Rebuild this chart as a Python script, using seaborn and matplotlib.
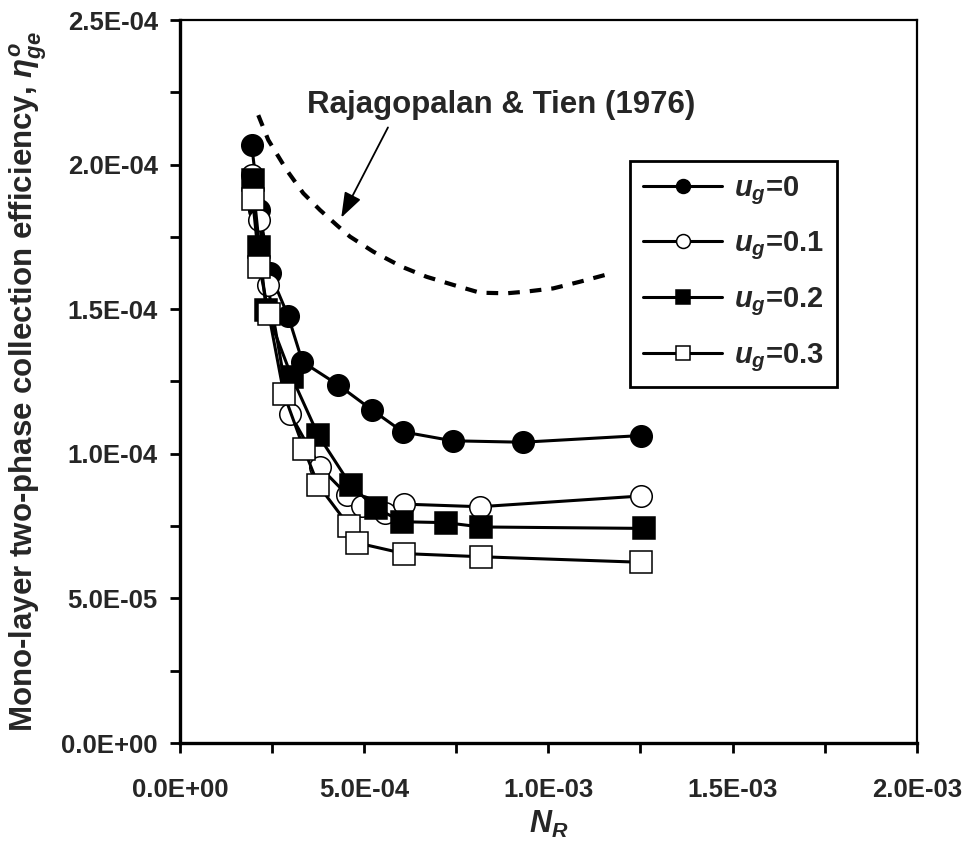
import seaborn as sns
import pandas as pd
import matplotlib.pyplot as plt
from matplotlib.lines import Line2D
from matplotlib.ticker import FuncFormatter, MultipleLocator

sns.set_theme(style="white")
plt.rcParams['font.family'] = ['Liberation Sans', 'DejaVu Sans']
plt.rcParams['font.weight'] = 'bold'
plt.rcParams['axes.labelweight'] = 'bold'
plt.rcParams['mathtext.fontset'] = 'custom'
plt.rcParams['mathtext.it'] = 'Liberation Sans:bold:italic'
plt.rcParams['mathtext.rm'] = 'Liberation Sans:bold'
plt.rcParams['mathtext.bf'] = 'Liberation Sans:bold'

# data (N_R, collection efficiency)
nr_u0 = [1.946e-4, 2.153e-4, 2.443e-4, 2.932e-4, 3.325e-4, 4.297e-4, 5.220e-4, 6.045e-4, 7.402e-4, 9.302e-4, 1.2505e-3]
eta_u0 = [2.068e-4, 1.843e-4, 1.625e-4, 1.478e-4, 1.318e-4, 1.238e-4, 1.151e-4, 1.076e-4, 1.045e-4, 1.040e-4, 1.063e-4]

nr_u01 = [1.95e-4, 2.15e-4, 2.38e-4, 2.986e-4, 3.80e-4, 4.53e-4, 4.93e-4, 5.56e-4, 6.08e-4, 8.14e-4, 1.2505e-3]
eta_u01 = [1.964e-4, 1.808e-4, 1.585e-4, 1.139e-4, 9.54e-5, 8.59e-5, 8.21e-5, 7.97e-5, 8.26e-5, 8.17e-5, 8.54e-5]

nr_u02 = [1.97e-4, 2.155e-4, 2.34e-4, 3.03e-4, 3.75e-4, 4.63e-4, 5.32e-4, 6.04e-4, 7.21e-4, 8.17e-4, 1.26e-3]
eta_u02 = [1.947e-4, 1.716e-4, 1.497e-4, 1.267e-4, 1.065e-4, 8.92e-5, 8.12e-5, 7.65e-5, 7.62e-5, 7.47e-5, 7.42e-5]

nr_u03 = [1.972e-4, 2.158e-4, 2.41e-4, 2.82e-4, 3.37e-4, 3.752e-4, 4.59e-4, 4.81e-4, 6.08e-4, 8.172e-4, 1.2505e-3]
eta_u03 = [1.880e-4, 1.647e-4, 1.483e-4, 1.207e-4, 1.015e-4, 8.92e-5, 7.50e-5, 6.92e-5, 6.55e-5, 6.44e-5, 6.25e-5]

# Rajagopalan & Tien (1976) curve
nr_rt = [2.125e-4, 2.397e-4, 2.896e-4, 3.347e-4, 3.800e-4, 4.253e-4, 4.614e-4, 5.247e-4, 6.018e-4, 6.696e-4,
         7.418e-4, 8.143e-4, 8.868e-4, 9.411e-4, 1.0133e-3, 1.0858e-3, 1.1762e-3]
eta_rt = [2.171e-4, 2.085e-4, 1.981e-4, 1.901e-4, 1.843e-4, 1.791e-4, 1.751e-4, 1.699e-4, 1.647e-4, 1.612e-4,
          1.584e-4, 1.557e-4, 1.555e-4, 1.561e-4, 1.572e-4, 1.595e-4, 1.626e-4]

labels = ['$u_g$=0', '$u_g$=0.1', '$u_g$=0.2', '$u_g$=0.3']
markers = ['o', 'o', 's', 's']
faces = ['black', 'white', 'black', 'white']

fig = plt.figure(figsize=(9.67, 8.46), dpi=100)
ax = fig.add_axes([180 / 967, 1 - 743 / 846, (916.7 - 180) / 967, (743 - 20) / 846])

series = [(nr_u0, eta_u0), (nr_u01, eta_u01), (nr_u02, eta_u02), (nr_u03, eta_u03)]
for (x, y), m, fc in zip(series, markers, faces):
    df = pd.DataFrame({'NR': x, 'eta': y})
    sns.lineplot(data=df, x='NR', y='eta', ax=ax, color='black', lw=2.2, marker=m,
                 markersize=15.5, markerfacecolor=fc, markeredgecolor='black',
                 markeredgewidth=1.1, sort=False, estimator=None)

df_rt = pd.DataFrame({'NR': nr_rt, 'eta': eta_rt})
sns.lineplot(data=df_rt, x='NR', y='eta', ax=ax, color='black', lw=3,
             linestyle=(0, (2.8, 2.4)), sort=False, estimator=None)

ax.text(8.71e-4, 2.206e-4, 'Rajagopalan & Tien (1976)', fontsize=22.5, fontweight='bold',
        ha='center', va='center')
ax.annotate('', xy=(4.343e-4, 1.808e-4), xytext=(5.68e-4, 2.137e-4),
            arrowprops=dict(arrowstyle='-|>,head_length=0.7,head_width=0.25', color='black',
                            lw=1.3, mutation_scale=22))

ax.set_xlim(0, 2.0e-3)
ax.set_ylim(0, 2.5e-4)
ax.xaxis.set_major_locator(MultipleLocator(5e-4))
ax.xaxis.set_minor_locator(MultipleLocator(2.5e-4))
ax.yaxis.set_major_locator(MultipleLocator(5e-5))
ax.yaxis.set_minor_locator(MultipleLocator(2.5e-5))
fmt = FuncFormatter(lambda v, p: f'{v:.1E}')
ax.xaxis.set_major_formatter(fmt)
ax.yaxis.set_major_formatter(fmt)
ax.tick_params(axis='both', which='both', direction='out', length=7, width=2, color='black',
               bottom=True, left=True, top=False, right=False)
ax.tick_params(axis='x', which='major', labelsize=18.5, pad=18)
ax.tick_params(axis='y', which='major', labelsize=18.5, pad=9)

for s in ['left', 'bottom']:
    ax.spines[s].set_linewidth(2.4)
for s in ['top', 'right']:
    ax.spines[s].set_linewidth(1.6)
for s in ax.spines.values():
    s.set_color('black')

ax.set_xlabel('$N_R$', fontsize=22, fontweight='bold', labelpad=5)
ax.set_ylabel('Mono-layer two-phase collection efficiency, $\\eta^o_{ge}$', fontsize=22.5,
              fontweight='bold', labelpad=9)

handles = [Line2D([], [], color='black', lw=2.2, marker=m, markersize=10, markerfacecolor=fc,
                  markeredgecolor='black', markeredgewidth=1.1) for m, fc in zip(markers, faces)]
leg = ax.legend(handles, labels, loc='upper left', bbox_to_anchor=(0.611, 0.805), borderaxespad=0,
                fontsize=21, frameon=True, fancybox=False, edgecolor='black', framealpha=1,
                handlelength=2.7, handletextpad=0.4, labelspacing=0.78, borderpad=0.45)
leg.get_frame().set_linewidth(2)

fig.savefig('out.png', dpi=100)
